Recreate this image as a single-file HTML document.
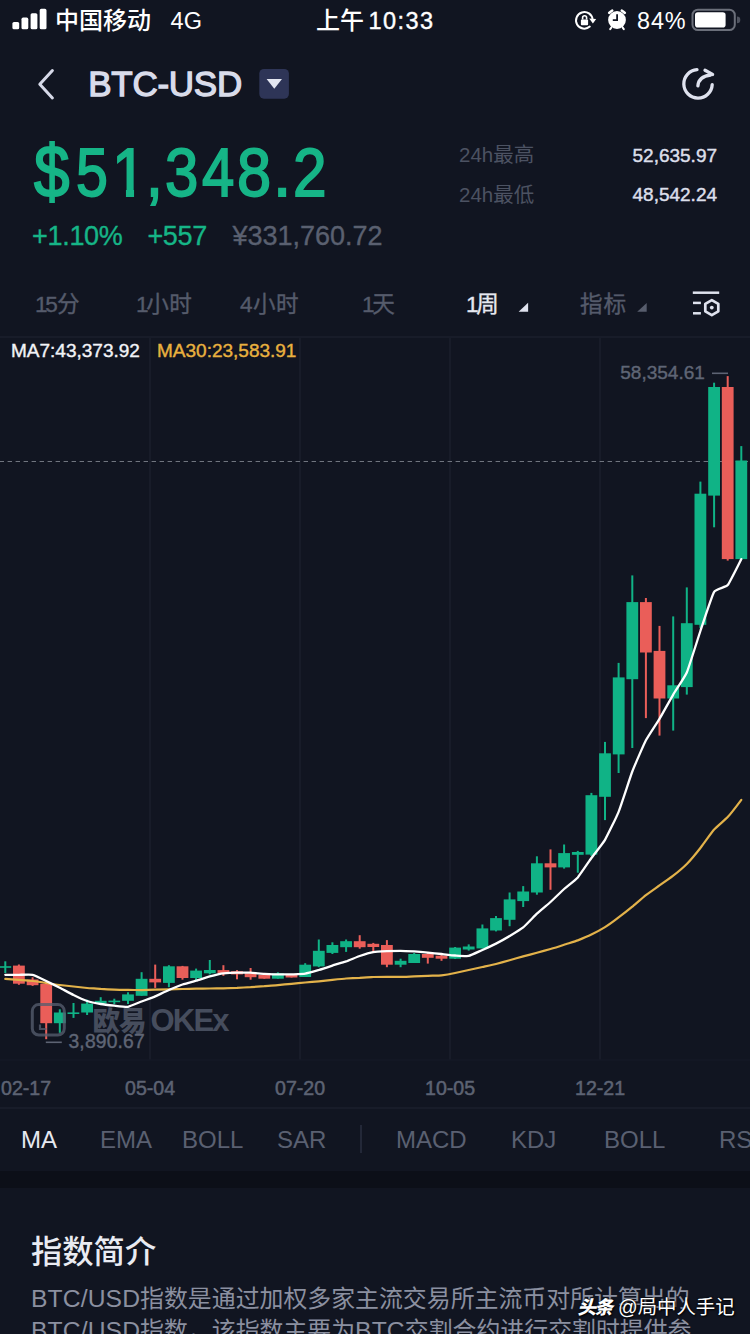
<!DOCTYPE html>
<html lang="zh-CN">
<head>
<meta charset="utf-8">
<title>BTC-USD</title>
<style>
html,body{margin:0;padding:0;}
body{width:750px;height:1334px;overflow:hidden;position:relative;background:#111521;
  font-family:"Liberation Sans","Noto Sans CJK SC",sans-serif;color:#fff;}
.a{position:absolute;white-space:nowrap;line-height:1;}
.sb{color:#fff;font-size:24px;}
.grey{color:#4c5262;}
.price{color:#16b587;-webkit-text-stroke:1.8px #16b587;width:400px;height:72px;}
.price span{position:absolute;top:0;line-height:1;transform-origin:0 0;}
.tab{font-size:22.6px;color:#555b6b;top:294px;letter-spacing:0.4px;-webkit-text-stroke:0.35px currentColor;}
.n1{letter-spacing:-2.4px;}
.itab{font-size:24px;color:#5a6071;top:1128px;}
.body{font-size:23.9px;color:#8b90a0;line-height:32px;width:740px;}
.lt{font-size:24.7px;letter-spacing:0.1px;}
.date{font-size:19.6px;color:#5d6373;-webkit-text-stroke:0.5px #5d6373;top:1079px;}
</style>
</head>
<body>
<!-- status bar -->
<svg class="a" style="left:0;top:0" width="750" height="44" viewBox="0 0 750 44">
  <g fill="#fff">
    <rect x="12.4" y="22" width="6.8" height="7.3" rx="1.6"/>
    <rect x="21.5" y="17.6" width="6.8" height="11.7" rx="1.6"/>
    <rect x="30.6" y="13.2" width="6.8" height="16.1" rx="1.6"/>
    <rect x="39.7" y="8.8" width="6.8" height="20.5" rx="1.6"/>
  </g>
  <!-- rotation lock -->
  <path d="M589.8 26.6 A8.3 8.3 0 1 1 592.6 19.6" fill="none" stroke="#fff" stroke-width="2" stroke-linecap="round"/>
  <path d="M589.2 18.6 L596.2 19 L592.9 23.4 Z" fill="#fff"/>
  <rect x="580.9" y="19.4" width="7.2" height="5.8" rx="1" fill="#fff"/>
  <path d="M582.6 19.6 v-1.8 a2 2 0 0 1 4 0 v1.8" fill="none" stroke="#fff" stroke-width="1.6"/>
  <!-- alarm -->
  <circle cx="617" cy="20" r="8.9" fill="#fff"/>
  <path d="M617.1 14.3 V20.2 H612.8" fill="none" stroke="#111521" stroke-width="1.8"/>
  <path d="M609.2 12.9 A10.6 10.6 0 0 1 612.2 10.6 M621.8 10.6 A10.6 10.6 0 0 1 624.8 12.9" fill="none" stroke="#fff" stroke-width="2.6" stroke-linecap="round"/>
  <path d="M611.3 27.6 l-1.1 1.5 M622.7 27.6 l1.1 1.5" stroke="#fff" stroke-width="2" stroke-linecap="round"/>
  <!-- battery -->
  <rect x="692.5" y="9.7" width="42.3" height="20.4" rx="5.4" fill="none" stroke="#6b6f7a" stroke-width="2"/>
  <rect x="695" y="12.2" width="30.6" height="15.3" rx="2.8" fill="#fff"/>
  <path d="M737 16.6 v6.6 a3.3 3.3 0 0 0 0 -6.6Z" fill="#4f535f"/>
</svg>
<div class="a sb" style="left:55px;top:9px;font-size:24px;font-weight:500;">中国移动</div>
<div class="a sb" style="left:170.5px;top:10px;font-size:23.5px;letter-spacing:0.3px;">4G</div>
<div class="a sb" style="left:316px;top:9px;font-size:24px;font-weight:500;">上午<span style="font-size:23.5px;font-weight:normal;letter-spacing:1.45px;margin-left:4.5px;-webkit-text-stroke:0.4px #fff;">10:33</span></div>
<div class="a sb" style="left:637px;top:9.6px;font-size:23.4px;letter-spacing:0.9px;">84%</div>

<!-- header -->
<svg class="a" style="left:0;top:60px" width="750" height="50" viewBox="0 60 750 50">
  <path d="M52.4 70.5 L39.8 84.2 L52.4 97.9" fill="none" stroke="#d6d9e8" stroke-width="3" stroke-linecap="round" stroke-linejoin="round"/>
  <rect x="259.3" y="68.9" width="29.6" height="29.8" rx="4.6" fill="#2e3557"/>
  <path d="M266.6 78.9 h15.4 l-7.7 9.9 Z" fill="#e3e6f0"/>
  <g fill="none" stroke="#dfe2ee" stroke-width="3.3" stroke-linecap="round" stroke-linejoin="round">
    <path d="M697 69.7 A14.2 14.2 0 1 0 712.2 84.6"/>
    <path d="M697.9 85.8 Q698.6 76.6 710.6 75"/>
    <path d="M705 70.2 L712.6 74.4"/>
  </g>
</svg>
<div class="a" style="left:88.2px;top:66px;font-size:35px;color:#d9dcea;letter-spacing:-0.25px;-webkit-text-stroke:1.3px #d9dcea;">BTC-USD</div>

<!-- price -->
<div class="a price" style="left:0;top:137.8px;font-size:68px;"><span style="left:34.20px;top:-3.70px;transform:scale(0.939,1.083);">$</span><span style="left:75.91px;top:0.00px;transform:scaleX(0.844);">5</span><span style="left:112.00px;top:0.00px;transform:scaleX(0.900);clip-path:polygon(0 0,100% 0,100% 51.5px,24.5px 51.5px,24.5px 100%,15.5px 100%,15.5px 51.5px,0 51.5px);">1</span><span style="left:145.66px;top:0.00px;transform:scaleX(0.889);">,</span><span style="left:165.24px;top:0.00px;transform:scaleX(0.882);">3</span><span style="left:202.00px;top:0.00px;transform:scaleX(0.854);">4</span><span style="left:237.29px;top:0.00px;transform:scaleX(0.903);">8</span><span style="left:273.47px;top:0.00px;transform:scaleX(0.967);">.</span><span style="left:292.92px;top:0.00px;transform:scaleX(0.888);">2</span></div>
<div class="a" style="left:32px;top:222.6px;font-size:27px;color:#16b587;letter-spacing:-0.3px;-webkit-text-stroke:0.35px #16b587;">+1.10%</div>
<div class="a" style="left:147.4px;top:222.6px;font-size:27px;color:#16b587;letter-spacing:-0.3px;-webkit-text-stroke:0.35px #16b587;">+557</div>
<div class="a" style="left:232.6px;top:222.6px;font-size:27px;color:#5a6070;letter-spacing:-0.03px;-webkit-text-stroke:0.35px #5a6070;">¥331,760.72</div>
<div class="a grey" style="left:459px;top:144.5px;font-size:20.5px;">24h最高</div>
<div class="a grey" style="left:459px;top:184.5px;font-size:20.5px;">24h最低</div>
<div class="a" style="left:632.5px;top:145.8px;font-size:19px;color:#dcdfea;-webkit-text-stroke:0.45px #dcdfea;">52,635.97</div>
<div class="a" style="left:632.5px;top:184.6px;font-size:19px;color:#dcdfea;-webkit-text-stroke:0.45px #dcdfea;">48,542.24</div>

<!-- period tabs -->
<div class="a tab" style="left:35px;"><span class="n1">1</span><span style="letter-spacing:-0.8px">5</span>分</div>
<div class="a tab" style="left:136px;"><span class="n1">1</span>小时</div>
<div class="a tab" style="left:240px;">4小时</div>
<div class="a tab" style="left:362px;"><span class="n1">1</span>天</div>
<div class="a tab" style="left:466px;color:#e6e8f0;"><span class="n1">1</span>周</div>
<div class="a tab" style="left:580px;letter-spacing:0.9px;">指标</div>
<svg class="a" style="left:500px;top:285px" width="250" height="40" viewBox="500 285 250 40">
  <path d="M528.1 302.8 V311.7 H518.6 Z" fill="#dfe2ee"/>
  <path d="M646.7 303 V311.8 H637.2 Z" fill="#575d6d"/>
  <g fill="none" stroke="#dfe2ee" stroke-width="2.5">
    <path d="M692.8 292.7 H719.2"/>
    <path d="M693 302.9 H700.9"/>
    <path d="M693 313.3 H700.9"/>
    <path d="M711.8 300.1 L718.3 303.85 V311.35 L711.8 315.1 L705.3 311.35 V303.85 Z" stroke-linejoin="round" stroke-width="2.7"/>
  </g>
  <circle cx="711.8" cy="307.6" r="1.9" fill="#dfe2ee"/>
</svg>

<!-- chart -->
<svg class="a" style="left:0;top:336px" width="750" height="774" viewBox="0 0 750 774">
  <g stroke="#181c29" stroke-width="2">
    <path d="M0 1 H750 M0 772 H750"/>
    <path d="M150 1 V724 M300 1 V724 M450 1 V724 M600 1 V724"/>
  </g>
  <path d="M0 724 H750" stroke="#151926" stroke-width="1.6"/>
  <path d="M0 125.5 H750" stroke="#70757f" stroke-width="1.1" stroke-dasharray="4.4 3.6" stroke-dashoffset="0.4"/>
  <rect x="4.3" y="625.3" width="2" height="11.7" fill="#10b386"/><rect x="-0.6" y="630.2" width="11.8" height="1.6" fill="#10b386"/><rect x="17.9" y="628.5" width="2" height="20.3" fill="#ea5e59"/><rect x="13.0" y="629.6" width="11.8" height="18.1" fill="#ea5e59"/><rect x="31.6" y="641.3" width="2" height="8.6" fill="#ea5e59"/><rect x="26.7" y="643.5" width="11.8" height="5.7" fill="#ea5e59"/><rect x="45.2" y="646.7" width="2" height="56.5" fill="#ea5e59"/><rect x="40.3" y="647.7" width="11.8" height="39.5" fill="#ea5e59"/><rect x="58.8" y="673.3" width="2" height="23.5" fill="#10b386"/><rect x="53.9" y="676.5" width="11.8" height="10.7" fill="#10b386"/><rect x="72.5" y="667.0" width="2" height="14.9" fill="#10b386"/><rect x="67.5" y="676.4" width="11.8" height="1.6" fill="#10b386"/><rect x="86.1" y="663.7" width="2" height="15.3" fill="#10b386"/><rect x="81.2" y="667.6" width="11.8" height="8.9" fill="#10b386"/><rect x="99.7" y="661.2" width="2" height="6.8" fill="#10b386"/><rect x="94.8" y="664.8" width="11.8" height="2.8" fill="#10b386"/><rect x="113.3" y="662.7" width="2" height="5.3" fill="#10b386"/><rect x="108.4" y="664.6" width="11.8" height="1.6" fill="#10b386"/><rect x="127.0" y="656.3" width="2" height="11.7" fill="#10b386"/><rect x="122.1" y="658.4" width="11.8" height="6.4" fill="#10b386"/><rect x="140.6" y="636.2" width="2" height="23.6" fill="#10b386"/><rect x="135.7" y="642.8" width="11.8" height="17.0" fill="#10b386"/><rect x="154.2" y="628.6" width="2" height="23.3" fill="#ea5e59"/><rect x="149.3" y="642.8" width="11.8" height="3.6" fill="#ea5e59"/><rect x="167.9" y="629.2" width="2" height="22.0" fill="#10b386"/><rect x="163.0" y="630.3" width="11.8" height="16.6" fill="#10b386"/><rect x="181.5" y="629.9" width="2" height="13.8" fill="#ea5e59"/><rect x="176.6" y="630.3" width="11.8" height="11.7" fill="#ea5e59"/><rect x="195.1" y="632.6" width="2" height="12.2" fill="#10b386"/><rect x="190.2" y="634.6" width="11.8" height="7.4" fill="#10b386"/><rect x="208.8" y="624.0" width="2" height="14.4" fill="#10b386"/><rect x="203.9" y="634.0" width="11.8" height="3.3" fill="#10b386"/><rect x="222.4" y="629.2" width="2" height="10.7" fill="#ea5e59"/><rect x="217.5" y="634.1" width="11.8" height="3.2" fill="#ea5e59"/><rect x="236.0" y="634.1" width="2" height="9.2" fill="#ea5e59"/><rect x="231.1" y="635.2" width="11.8" height="3.2" fill="#ea5e59"/><rect x="249.6" y="632.0" width="2" height="11.7" fill="#ea5e59"/><rect x="244.7" y="637.3" width="11.8" height="3.9" fill="#ea5e59"/><rect x="263.3" y="637.3" width="2" height="5.4" fill="#ea5e59"/><rect x="258.4" y="639.0" width="11.8" height="3.7" fill="#ea5e59"/><rect x="276.9" y="636.3" width="2" height="6.4" fill="#10b386"/><rect x="272.0" y="637.3" width="11.8" height="5.4" fill="#10b386"/><rect x="290.5" y="638.3" width="2" height="3.2" fill="#ea5e59"/><rect x="285.6" y="638.3" width="11.8" height="3.2" fill="#ea5e59"/><rect x="304.2" y="627.2" width="2" height="13.8" fill="#10b386"/><rect x="299.3" y="628.7" width="11.8" height="12.3" fill="#10b386"/><rect x="317.8" y="603.5" width="2" height="27.7" fill="#10b386"/><rect x="312.9" y="614.8" width="11.8" height="15.6" fill="#10b386"/><rect x="331.4" y="606.3" width="2" height="11.7" fill="#10b386"/><rect x="326.5" y="609.0" width="11.8" height="7.9" fill="#10b386"/><rect x="345.1" y="603.5" width="2" height="12.4" fill="#10b386"/><rect x="340.2" y="605.2" width="11.8" height="6.0" fill="#10b386"/><rect x="358.7" y="599.2" width="2" height="13.5" fill="#ea5e59"/><rect x="353.8" y="605.2" width="11.8" height="6.0" fill="#ea5e59"/><rect x="372.3" y="606.9" width="2" height="9.4" fill="#ea5e59"/><rect x="367.4" y="607.8" width="11.8" height="3.2" fill="#ea5e59"/><rect x="385.9" y="604.1" width="2" height="27.1" fill="#ea5e59"/><rect x="381.0" y="609.0" width="11.8" height="19.7" fill="#ea5e59"/><rect x="399.6" y="622.7" width="2" height="8.5" fill="#10b386"/><rect x="394.7" y="624.8" width="11.8" height="3.9" fill="#10b386"/><rect x="413.2" y="617.0" width="2" height="10.0" fill="#10b386"/><rect x="408.3" y="618.0" width="11.8" height="9.0" fill="#10b386"/><rect x="426.8" y="617.0" width="2" height="10.6" fill="#ea5e59"/><rect x="421.9" y="618.0" width="11.8" height="3.8" fill="#ea5e59"/><rect x="440.5" y="619.0" width="2" height="5.8" fill="#ea5e59"/><rect x="435.6" y="619.7" width="11.8" height="3.0" fill="#ea5e59"/><rect x="454.1" y="611.0" width="2" height="12.0" fill="#10b386"/><rect x="449.2" y="611.6" width="11.8" height="11.1" fill="#10b386"/><rect x="467.7" y="608.4" width="2" height="6.2" fill="#10b386"/><rect x="462.8" y="610.5" width="11.8" height="3.0" fill="#10b386"/><rect x="481.4" y="588.5" width="2" height="23.9" fill="#10b386"/><rect x="476.5" y="592.4" width="11.8" height="20.0" fill="#10b386"/><rect x="495.0" y="580.0" width="2" height="15.4" fill="#10b386"/><rect x="490.1" y="582.1" width="11.8" height="12.4" fill="#10b386"/><rect x="508.6" y="556.5" width="2" height="33.7" fill="#10b386"/><rect x="503.7" y="563.4" width="11.8" height="20.4" fill="#10b386"/><rect x="522.2" y="550.1" width="2" height="20.9" fill="#10b386"/><rect x="517.3" y="555.5" width="11.8" height="9.6" fill="#10b386"/><rect x="535.9" y="520.3" width="2" height="38.4" fill="#10b386"/><rect x="531.0" y="527.3" width="11.8" height="29.2" fill="#10b386"/><rect x="549.5" y="513.4" width="2" height="40.4" fill="#ea5e59"/><rect x="544.6" y="527.3" width="11.8" height="4.1" fill="#ea5e59"/><rect x="563.1" y="508.5" width="2" height="24.1" fill="#10b386"/><rect x="558.2" y="517.1" width="11.8" height="14.3" fill="#10b386"/><rect x="576.8" y="514.9" width="2" height="21.8" fill="#10b386"/><rect x="571.9" y="516.0" width="11.8" height="2.8" fill="#10b386"/><rect x="590.4" y="456.9" width="2" height="63.1" fill="#10b386"/><rect x="585.5" y="459.2" width="11.8" height="59.4" fill="#10b386"/><rect x="604.0" y="405.9" width="2" height="78.2" fill="#10b386"/><rect x="599.1" y="417.3" width="11.8" height="43.5" fill="#10b386"/><rect x="617.6" y="326.9" width="2" height="110.1" fill="#10b386"/><rect x="612.8" y="341.4" width="11.8" height="77.0" fill="#10b386"/><rect x="631.3" y="239.4" width="2" height="172.6" fill="#10b386"/><rect x="626.4" y="266.1" width="11.8" height="77.1" fill="#10b386"/><rect x="644.9" y="262.0" width="2" height="120.1" fill="#ea5e59"/><rect x="640.0" y="266.1" width="11.8" height="50.4" fill="#ea5e59"/><rect x="658.5" y="289.9" width="2" height="109.7" fill="#ea5e59"/><rect x="653.6" y="314.9" width="11.8" height="47.6" fill="#ea5e59"/><rect x="672.2" y="280.4" width="2" height="114.2" fill="#10b386"/><rect x="667.3" y="349.3" width="11.8" height="13.2" fill="#10b386"/><rect x="685.8" y="251.4" width="2" height="107.2" fill="#10b386"/><rect x="680.9" y="287.2" width="11.8" height="63.9" fill="#10b386"/><rect x="699.4" y="145.6" width="2" height="146.6" fill="#10b386"/><rect x="694.5" y="157.7" width="11.8" height="131.1" fill="#10b386"/><rect x="713.1" y="46.7" width="2" height="144.6" fill="#10b386"/><rect x="708.2" y="51.0" width="11.8" height="108.6" fill="#10b386"/><rect x="726.7" y="40.1" width="2" height="184.5" fill="#ea5e59"/><rect x="721.8" y="51.0" width="11.8" height="172.1" fill="#ea5e59"/><rect x="740.3" y="110.1" width="2" height="113.0" fill="#10b386"/><rect x="735.4" y="124.5" width="11.8" height="98.6" fill="#10b386"/>
  <!-- watermark -->
  <g opacity="0.78">
    <rect x="32.3" y="668.6" width="32" height="30.4" rx="6.5" fill="none" stroke="#565d6e" stroke-width="3"/>
    <path d="M40 688.4 V693 H46.5" fill="none" stroke="#565d6e" stroke-width="2.2"/>
    <text x="92.4" y="695" font-size="27.5" font-weight="900" fill="#565d6e" letter-spacing="-1" font-family="'Liberation Sans','Noto Sans CJK SC',sans-serif">欧易</text>
    <text x="150.5" y="695.2" font-size="31" font-weight="bold" fill="#565d6e" letter-spacing="-1.8" font-family="'Liberation Sans','Noto Sans CJK SC',sans-serif">OKEx</text>
  </g>
    <path d="M5.3 642.8 C6.2 642.9 17.1 643.8 18.9 643.9 C20.7 644.0 30.7 644.8 32.6 645.0 C34.4 645.2 44.4 646.7 46.2 647.0 C48.0 647.3 58.0 648.8 59.8 649.0 C61.6 649.2 71.6 650.3 73.5 650.5 C75.3 650.7 85.3 651.8 87.1 652.0 C88.9 652.2 98.9 652.7 100.7 652.9 C102.5 653.0 112.5 653.6 114.3 653.7 C116.2 653.8 126.2 653.9 128.0 653.9 C129.8 653.9 139.8 654.1 141.6 654.1 C143.4 654.1 153.4 653.8 155.2 653.7 C157.0 653.6 167.0 653.3 168.9 653.3 C170.7 653.3 180.7 653.0 182.5 653.0 C184.3 653.0 194.3 652.7 196.1 652.7 C197.9 652.7 207.9 652.5 209.8 652.5 C211.6 652.5 221.6 652.3 223.4 652.3 C225.2 652.2 235.2 651.8 237.0 651.8 C238.8 651.7 248.8 651.3 250.6 651.2 C252.5 651.1 262.5 650.3 264.3 650.2 C266.1 650.0 276.1 649.3 277.9 649.1 C279.7 648.9 289.7 648.0 291.5 647.8 C293.3 647.6 303.3 646.7 305.2 646.5 C307.0 646.3 317.0 645.5 318.8 645.3 C320.6 645.1 330.6 644.1 332.4 643.9 C334.2 643.7 344.2 642.6 346.1 642.5 C347.9 642.4 357.9 641.9 359.7 641.8 C361.5 641.6 371.5 641.1 373.3 641.0 C375.1 640.9 385.1 640.9 386.9 640.9 C388.8 640.9 398.8 640.8 400.6 640.8 C402.4 640.8 412.4 640.4 414.2 640.3 C416.0 640.2 426.0 639.9 427.8 639.8 C429.6 639.7 439.6 639.6 441.5 639.4 C443.3 639.2 453.3 637.4 455.1 637.0 C456.9 636.6 466.9 634.4 468.7 634.0 C470.5 633.6 480.5 631.4 482.4 631.0 C484.2 630.6 494.2 628.5 496.0 628.0 C497.8 627.5 507.8 624.7 509.6 624.2 C511.4 623.7 521.4 620.9 523.2 620.4 C525.1 619.9 535.1 617.2 536.9 616.7 C538.7 616.2 548.7 613.5 550.5 613.0 C552.3 612.5 562.3 609.3 564.1 608.7 C565.9 608.1 575.9 605.1 577.8 604.4 C579.6 603.7 589.6 599.5 591.4 598.6 C593.2 597.7 603.2 592.2 605.0 591.1 C606.8 590.0 616.8 582.8 618.6 581.4 C620.5 580.0 630.5 572.2 632.3 570.7 C634.1 569.2 644.1 560.5 645.9 559.1 C647.7 557.7 657.7 550.7 659.5 549.4 C661.4 548.1 671.4 541.1 673.2 539.7 C675.0 538.3 685.0 529.8 686.8 528.0 C688.6 526.2 698.6 514.3 700.4 512.0 C702.2 509.7 712.2 495.7 714.1 493.6 C715.9 491.5 725.9 483.1 727.7 481.1 C729.5 479.1 740.4 465.0 741.3 463.8" fill="none" stroke="#e3b24a" stroke-width="2.2" stroke-linejoin="round" stroke-linecap="round"/>
  <path d="M5.3 638.8 C6.2 638.8 17.1 638.8 18.9 638.8 C20.7 638.8 30.7 638.4 32.6 638.8 C34.4 639.2 44.4 644.1 46.2 645.0 C48.0 645.9 58.0 650.9 59.8 651.8 C61.6 652.7 71.6 658.1 73.5 659.0 C75.3 659.9 85.3 664.4 87.1 665.0 C88.9 665.6 98.9 667.7 100.7 668.0 C102.5 668.3 112.5 669.5 114.3 669.7 C116.2 669.9 126.2 671.1 128.0 670.8 C129.8 670.5 139.8 666.2 141.6 665.5 C143.4 664.8 153.4 661.2 155.2 660.4 C157.0 659.6 167.0 654.8 168.9 654.0 C170.7 653.2 180.7 649.1 182.5 648.5 C184.3 647.9 194.3 645.2 196.1 644.7 C197.9 644.2 207.9 640.9 209.8 640.4 C211.6 639.9 221.6 637.5 223.4 637.3 C225.2 637.1 235.2 636.7 237.0 636.7 C238.8 636.7 248.8 636.6 250.6 636.7 C252.5 636.8 262.5 637.7 264.3 637.8 C266.1 637.9 276.1 638.4 277.9 638.4 C279.7 638.4 289.7 638.5 291.5 638.4 C293.3 638.3 303.3 637.9 305.2 637.6 C307.0 637.3 317.0 634.5 318.8 634.0 C320.6 633.5 330.6 630.2 332.4 629.6 C334.2 629.0 344.2 626.0 346.1 625.4 C347.9 624.8 357.9 620.6 359.7 620.0 C361.5 619.4 371.5 616.5 373.3 616.2 C375.1 615.9 385.1 615.3 386.9 615.2 C388.8 615.1 398.8 614.8 400.6 614.8 C402.4 614.8 412.4 615.3 414.2 615.4 C416.0 615.5 426.0 616.4 427.8 616.6 C429.6 616.8 439.6 617.8 441.5 618.0 C443.3 618.2 453.3 619.4 455.1 619.5 C456.9 619.6 466.9 620.3 468.7 619.9 C470.5 619.5 480.5 614.8 482.4 614.0 C484.2 613.2 494.2 608.5 496.0 607.6 C497.8 606.7 507.8 601.2 509.6 600.1 C511.4 599.0 521.4 592.9 523.2 591.4 C525.1 589.9 535.1 579.3 536.9 577.6 C538.7 575.9 548.7 567.6 550.5 566.0 C552.3 564.4 562.3 554.6 564.1 553.0 C565.9 551.4 575.9 543.5 577.8 541.4 C579.6 539.3 589.6 524.5 591.4 522.0 C593.2 519.5 603.2 506.9 605.0 503.8 C606.8 500.7 616.8 480.4 618.6 475.8 C620.5 471.2 630.5 440.3 632.3 435.5 C634.1 430.7 644.1 407.8 645.9 404.3 C647.7 400.8 657.7 385.8 659.5 382.8 C661.4 379.8 671.4 361.7 673.2 358.6 C675.0 355.5 685.0 340.7 686.8 336.5 C688.6 332.3 698.6 300.4 700.4 295.0 C702.2 289.6 712.2 259.0 714.1 255.9 C715.9 252.8 725.9 251.3 727.7 249.1 C729.5 246.9 740.4 224.8 741.3 223.1" fill="none" stroke="#ffffff" stroke-width="2.3" stroke-linejoin="round" stroke-linecap="round"/>
  <path d="M712 37.3 H728" stroke="#5d6373" stroke-width="1.6"/>
  <path d="M45.8 706.3 H61.8" stroke="#5d6373" stroke-width="1.6"/>
</svg>
<div class="a" style="left:11px;top:341px;font-size:19px;color:#f2f3f7;-webkit-text-stroke:0.4px #f2f3f7;">MA7:43,373.92</div>
<div class="a" style="left:157px;top:341px;font-size:19px;color:#e9b13f;-webkit-text-stroke:0.4px #e9b13f;">MA30:23,583.91</div>
<div class="a" style="left:620.3px;top:363.4px;font-size:19px;color:#5f6575;-webkit-text-stroke:0.4px #5f6575;">58,354.61</div>
<div class="a" style="left:68.5px;top:1032.4px;font-size:19.3px;color:#5f6575;-webkit-text-stroke:0.4px #5f6575;letter-spacing:0.15px;">3,890.67</div>

<!-- dates -->
<div class="a date" style="left:1px;">02-17</div>
<div class="a date" style="left:125px;">05-04</div>
<div class="a date" style="left:275px;">07-20</div>
<div class="a date" style="left:425px;">10-05</div>
<div class="a date" style="left:575px;">12-21</div>

<!-- indicator tabs -->
<div class="a itab" style="left:21px;color:#e6e8f0;">MA</div>
<div class="a itab" style="left:100px;">EMA</div>
<div class="a itab" style="left:182px;">BOLL</div>
<div class="a itab" style="left:277px;">SAR</div>
<div class="a" style="left:360px;top:1125px;width:1.5px;height:28px;background:#232838;"></div>
<div class="a itab" style="left:396px;">MACD</div>
<div class="a itab" style="left:511px;">KDJ</div>
<div class="a itab" style="left:604px;">BOLL</div>
<div class="a itab" style="left:719px;">RSI</div>

<div class="a" style="left:0;top:1171px;width:750px;height:17px;background:#0c0f18;"></div>

<!-- intro -->
<div class="a" style="left:31px;top:1237px;font-size:31.3px;color:#e9ebf2;font-weight:500;">指数简介</div>
<div class="a body" style="left:31px;top:1283px;"><span class="lt">BTC/USD</span>指数是通过加权多家主流交易所主流币对所计算出的<br><span class="lt">BTC/USD</span>指数，该指数主要为<span class="lt">BTC</span>交割合约进行交割时提供参</div>

<!-- overlay mark -->
<div class="a" style="left:577.5px;top:1297.5px;font-size:19.4px;color:#fff;text-shadow:1px 1px 2px #000,0 0 2px #000;"><span style="font-weight:900;font-style:italic;font-size:18.6px;letter-spacing:-1.6px;">头条</span><span style="margin-left:6.5px">@局中人手记</span></div>
</body>
</html>
